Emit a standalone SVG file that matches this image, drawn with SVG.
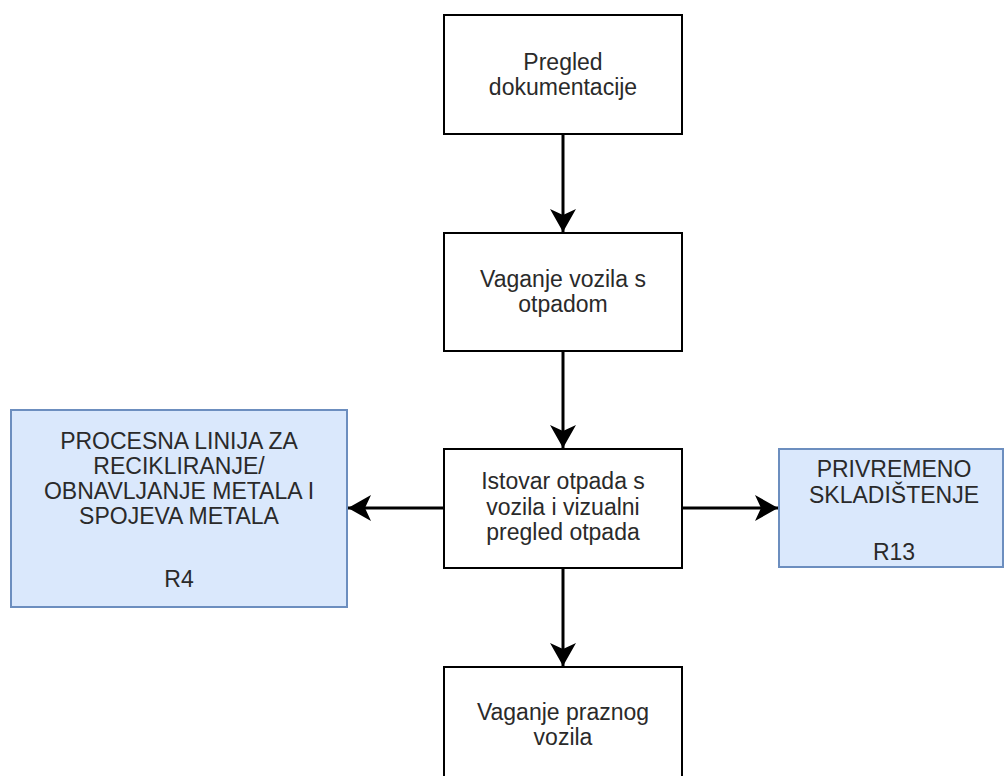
<svg xmlns="http://www.w3.org/2000/svg" width="1005" height="776" viewBox="0 0 1005 776">
<defs>
<style>
.box{fill:#ffffff;stroke:#000000;stroke-width:2}
.blue{fill:#dae8fc;stroke:#6c8ebf;stroke-width:2}
.t{font-family:"Liberation Sans",Arial,sans-serif;font-size:23px;fill:#2a2a2a;text-anchor:middle}
.edge{stroke:#000000;stroke-width:3;fill:none}
</style>
<marker id="arr" viewBox="0 0 24 26" refX="23" refY="13" markerWidth="24" markerHeight="26" markerUnits="userSpaceOnUse" orient="auto">
<path d="M23,13 L0,0 L6,13 L0,26 Z" fill="#000000"/>
</marker>
</defs>
<rect width="1005" height="776" fill="#ffffff"/>
<g id="connectors">
<line class="edge" x1="563" y1="134" x2="563" y2="232" marker-end="url(#arr)"/>
<line class="edge" x1="563" y1="351" x2="563" y2="448" marker-end="url(#arr)"/>
<line class="edge" x1="563" y1="568" x2="563" y2="666" marker-end="url(#arr)"/>
<line class="edge" x1="444" y1="508" x2="348" y2="508" marker-end="url(#arr)"/>
<line class="edge" x1="682" y1="508" x2="778" y2="508" marker-end="url(#arr)"/>
</g>
<g id="n1">
<rect class="box" x="444" y="15" width="238" height="119"/>
<text class="t" x="563" y="70">Pregled</text>
<text class="t" x="563" y="95">dokumentacije</text>
</g>
<g id="n2">
<rect class="box" x="444" y="233" width="238" height="118"/>
<text class="t" x="563" y="287">Vaganje vozila s</text>
<text class="t" x="563" y="312">otpadom</text>
</g>
<g id="n3">
<rect class="box" x="444" y="449" width="238" height="119"/>
<text class="t" x="563" y="489">Istovar otpada s</text>
<text class="t" x="563" y="514.5">vozila i vizualni</text>
<text class="t" x="563" y="540">pregled otpada</text>
</g>
<g id="n4">
<rect class="box" x="444" y="667" width="238" height="119"/>
<text class="t" x="563" y="720">Vaganje praznog</text>
<text class="t" x="563" y="745">vozila</text>
</g>
<g id="n5">
<rect class="blue" x="11" y="410" width="336" height="197"/>
<text class="t" x="179" y="449">PROCESNA LINIJA ZA</text>
<text class="t" x="179" y="474">RECIKLIRANJE/</text>
<text class="t" x="179" y="499">OBNAVLJANJE METALA I</text>
<text class="t" x="179" y="524">SPOJEVA METALA</text>
<text class="t" x="179" y="587">R4</text>
</g>
<g id="n6">
<rect class="blue" x="779" y="449" width="224" height="118"/>
<text class="t" x="894" y="477">PRIVREMENO</text>
<text class="t" x="894" y="503">SKLADIŠTENJE</text>
<text class="t" x="894" y="560">R13</text>
</g>
</svg>
